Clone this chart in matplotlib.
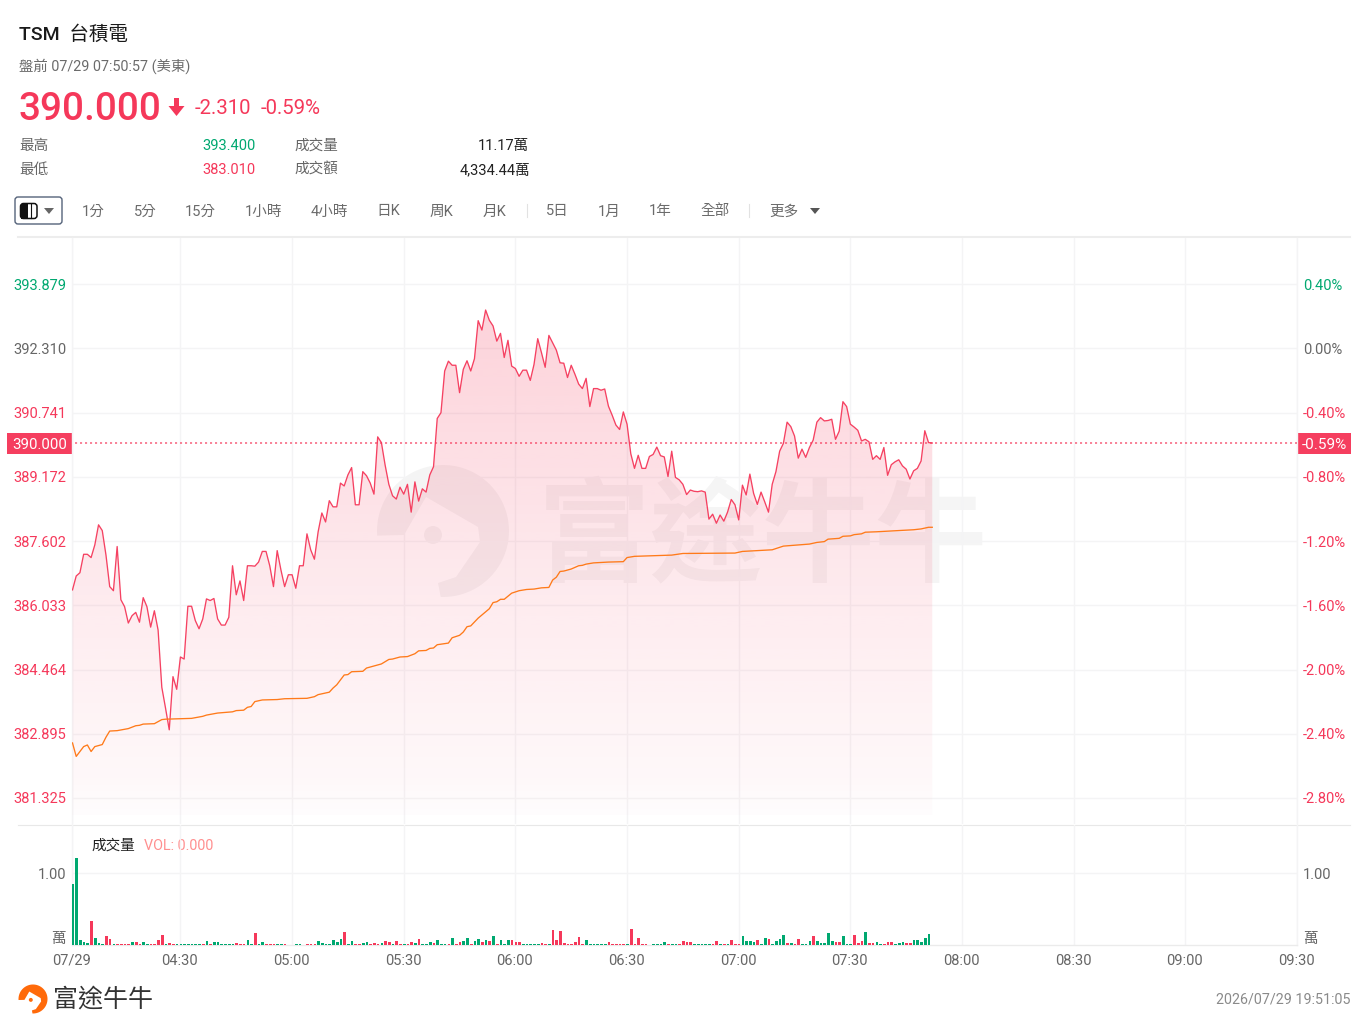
import numpy as np
import matplotlib
matplotlib.use("Agg")
import matplotlib.pyplot as plt
from matplotlib.patches import Polygon, Circle, FancyBboxPatch, Rectangle
from matplotlib.transforms import ScaledTranslation

W, H = 1369, 1031
RED = "#F5385A"
GREEN = "#00A870"
ORANGE = "#FF7A1A"
GRID = "#F4F4F5"
FONT = ["Roboto", "Noto Sans CJK TC", "DejaVu Sans"]
plt.rcParams["font.family"] = FONT
plt.rcParams["lines.scale_dashes"] = False

# ---- data -------------------------------------------------------------
price = [
 386.41,386.75,386.83,387.28,387.28,387.20,387.51,388.00,387.86,387.26,
 386.49,386.39,387.47,386.17,386.00,385.60,385.78,385.86,385.62,386.22,
 386.00,385.50,385.90,385.43,384.03,383.52,382.99,384.29,383.98,384.77,
 384.72,386.01,386.01,385.66,385.46,385.70,386.19,386.15,386.20,385.70,
 385.55,385.55,385.74,387.00,386.29,386.63,386.15,387.00,387.00,386.99,
 387.09,387.35,387.35,387.00,386.49,387.37,386.90,386.49,386.78,386.78,
 386.45,387.00,387.00,387.78,387.39,387.16,387.83,388.29,388.07,388.59,
 388.44,388.44,389.02,388.95,389.22,389.40,388.49,388.49,389.30,389.20,
 389.02,388.75,390.15,390.01,389.46,388.99,388.71,388.63,388.92,388.75,
 388.99,388.31,389.05,388.58,388.88,388.80,389.22,389.42,390.60,390.74,
 391.76,392.00,391.90,391.90,391.23,391.80,392.01,391.76,392.06,392.99,
 392.76,393.25,393.00,392.86,392.49,392.68,392.09,392.51,391.88,391.82,
 391.63,391.78,391.78,391.53,391.92,392.55,392.21,391.85,392.63,392.45,
 392.27,391.96,391.95,391.60,391.90,391.68,391.44,391.33,391.58,390.89,
 391.33,391.33,391.29,391.32,390.90,390.68,390.44,390.33,390.76,390.46,
 389.74,389.38,389.70,389.38,389.38,389.67,389.72,389.90,389.69,389.66,
 389.18,389.80,389.16,389.10,388.99,388.74,388.85,388.82,388.81,388.83,
 388.80,388.14,388.26,388.04,388.24,388.09,388.31,388.62,388.49,388.12,
 388.97,388.73,389.24,388.77,388.50,388.80,388.56,388.31,388.99,389.30,
 389.80,389.99,390.51,390.40,390.17,389.63,389.85,389.65,389.89,390.07,
 390.51,390.62,390.54,390.55,390.58,390.09,390.29,391.01,390.89,390.46,
 390.39,390.31,390.05,390.09,390.03,389.60,389.69,389.60,389.89,389.21,
 389.47,389.54,389.59,389.44,389.36,389.12,389.32,389.38,389.56,390.30,
 390.01,390.00]

vwap_minute = [
 0,1,3,4,5,6,8,9,10,12,15,17,18,19,22,24,25,32,35,36,39,43,44,46,47,48,49,51,
 55,57,63,65,66,69,70,71,73,74,75,78,79,83,85,86,88,90,92,93,95,96,97,98,101,
 102,104,105,106,107,109,112,113,114,115,116,118,120,122,124,126,128,129,130,
 131,132,134,136,137,138,140,144,148,149,151,161,164,178,180,188,191,198,200,
 202,203,206,207,209,210,212,213,216,226,228,230,231]
vwap = [
 382.67,382.34,382.58,382.62,382.46,382.58,382.63,382.81,382.96,382.97,383.02,
 383.09,383.10,383.13,383.14,383.24,383.25,383.27,383.32,383.35,383.40,383.43,
 383.46,383.47,383.54,383.56,383.68,383.72,383.73,383.75,383.76,383.80,383.85,
 383.91,384.01,384.09,384.33,384.34,384.41,384.42,384.50,384.60,384.71,384.72,
 384.77,384.78,384.85,384.92,384.93,384.98,384.99,385.07,385.11,385.24,385.30,
 385.38,385.51,385.53,385.72,385.95,386.10,386.12,386.18,386.18,386.33,386.39,
 386.42,386.43,386.46,386.47,386.65,386.72,386.86,386.87,386.92,387.00,387.01,
 387.04,387.07,387.09,387.10,387.20,387.23,387.26,387.30,387.31,387.35,387.39,
 387.48,387.53,387.57,387.59,387.65,387.67,387.72,387.73,387.76,387.78,387.82,
 387.83,387.88,387.90,387.94,387.94]

volume = [
 .843,1.198,.065,.046,.028,.332,.101,.023,.018,.120,
 .083,.014,.014,.014,.014,.014,.037,.037,.014,.037,
 .018,.014,.014,.074,.138,.014,.028,.018,.014,.014,
 .014,.014,.014,.014,.014,.014,.055,.014,.037,.037,
 .018,.014,.014,.014,.032,.014,.018,.065,.014,.166,
 .014,.046,.014,.009,.009,.009,.009,.009,0,0,
 .009,.009,0,.009,.014,.018,.051,.032,.018,.014,
 .069,.046,.083,.175,.014,.055,.014,.014,.023,.046,
 .014,.032,.018,.028,.055,.037,.014,.055,.014,.014,
 .014,.046,.032,.078,.014,.014,.046,.028,.074,.014,
 .014,.014,.092,.014,.037,.055,.092,.014,.055,.083,
 .046,.065,.055,.120,.014,.065,.014,.065,.074,.041,
 .037,.014,.014,.014,.014,.014,.028,.014,.014,.203,
 .069,.194,.023,.018,.018,.046,.115,.014,.065,.014,
 .014,.014,.014,.014,.041,.014,.014,.014,.014,.014,
 .221,.014,.101,.014,.014,0,.014,.014,.014,.041,
 .014,.014,.014,.014,.060,.041,.041,.014,.014,.014,
 .014,.014,.014,.051,.014,.014,.014,.074,.014,.014,
 .120,.060,.055,.037,.065,.014,.092,.078,.018,.055,
 .088,.134,.032,.032,.014,.078,.014,.014,.055,.124,
 .055,.023,.023,.166,.055,.041,.041,.124,.018,.014,
 .143,.028,.051,.175,.028,.028,.041,.014,.018,.037,
 .037,.014,.023,.041,.023,.023,.074,.074,.041,.097,
 .152]
vol_dir = ("gggggrgggr" "rgrrrrgrrg" "grrrrgrrgg" "gggggrgrgg" "ggggrrrggr"
           "ggrrrggrrr" "ggrrrrgggg" "gggrggrrgg" "rrrgrrgrrg" "rrgrgggrgg"
           "grgrrggrgg" "rgrgrgggrr" "rgggggrrgr" "rrrrrrrrgg" "ggggrrrrrg"
           "rrrrrrgggg" "rggrrrrggg" "ggrrgrgrrr" "ggggrggrgg" "ggrgrrgggr"
           "gggggrrggg" "rrrgrrggrr" "rgggrrgggg" "g")

price_ticks = [393.879,392.310,390.741,389.172,387.602,386.033,384.464,382.895,381.325]
price_tick_labels = ["393.879","392.310","390.741","389.172","387.602","386.033","384.464","382.895","381.325"]
pct_labels = ["0.40%","0.00%","-0.40%","-0.80%","-1.20%","-1.60%","-2.00%","-2.40%","-2.80%"]
time_ticks = [0,29,59,89,119,149,179,209,239,269,299,329]
time_labels = ["07/29","04:30","05:00","05:30","06:00","06:30","07:00","07:30","08:00","08:30","09:00","09:30"]
last_price = 390.0
last_pct = "-0.59%"
vol_tick = 1.0

# ---- figure -----------------------------------------------------------
fig = plt.figure(figsize=(W/100, H/100), dpi=100, facecolor="white")

def axes_px(l, t, r, b, **kw):
    return fig.add_axes([l/W, 1-b/H, (r-l)/W, (b-t)/H], **kw)

ov = axes_px(0, 0, W, H, zorder=0)
ov.set_xlim(0, W); ov.set_ylim(H, 0); ov.axis("off")

L, R, T, B = 72, 1297, 238, 824
ax = axes_px(L, T, R, B, zorder=2)
ax.patch.set_alpha(0)
vx = axes_px(L, B+1, R, 945, zorder=2, sharex=ax)
vx.patch.set_alpha(0)

def txt(x, y, s, size, color, ha="left", weight="normal", a=ov):
    return a.text(x, y+1, s, fontsize=size*0.72, color=color, ha=ha, va="center",
                  fontweight=weight, family=FONT)

# logo shape shared by watermark and footer
def logo(cx, cy, r, color, alpha):
    th = np.radians(np.linspace(176, 452, 120))
    arc = np.c_[cx + r*np.cos(th), cy + r*np.sin(th)]
    inner = np.array([[-5,52],[13,46],[37,11],[35,-4],[-17,-34],[-39,4]])*r/66.0 + [cx, cy]
    ov.add_patch(Polygon(np.vstack([arc, inner]), closed=True, fc=color, ec="none", alpha=alpha))
    ov.add_patch(Circle((cx-10*r/66, cy+4*r/66), 9*r/66, fc=color, ec="none", alpha=alpha))

# watermark
logo(443, 531, 66, "#000000", 0.045)
ov.text(763, 540, "富途牛牛", fontsize=81, color="black", alpha=0.04, ha="center", va="center",
        family=["Noto Sans CJK TC"], fontweight="bold")

# header
txt(19, 33.5, "TSM  台積電", 19.5, "#1A1A1A", weight="medium")
txt(19, 65, "盤前 07/29 07:50:57 (美東)", 14.4, "#6B6B6B")
txt(19, 109, "390.000", 38.8, RED, weight="medium")
ov.add_patch(Polygon([[174,98],[179,98],[179,106],[184.5,106],[176.5,116],[168.5,106],[174,106]],
                     closed=True, fc=RED, ec="none"))
txt(195, 107, "-2.310", 20.4, RED)
txt(261, 107, "-0.59%", 20.4, RED)
txt(19, 145, "最高", 14.6, "#666666")
txt(19, 169, "最低", 14.6, "#666666")
txt(255.5, 145, "393.400", 14.6, GREEN, ha="right")
txt(255.5, 169, "383.010", 14.6, RED, ha="right")
txt(294, 144.5, "成交量", 14.6, "#666666")
txt(294, 168.5, "成交額", 14.6, "#666666")
txt(529.5, 145, "11.17萬", 14.6, "#222222", ha="right")
txt(530.5, 169, "4,334.44萬", 14.6, "#222222", ha="right")

# toolbar
ov.add_patch(FancyBboxPatch((15, 197), 47, 27, boxstyle="round,pad=0,rounding_size=3",
                            fc="white", ec="#55637A", lw=1.0))
ov.add_patch(FancyBboxPatch((20.5, 203.5), 16.5, 15, boxstyle="round,pad=0,rounding_size=3",
                            fc="white", ec="#111111", lw=1.1))
ov.add_patch(Rectangle((20.5, 203.5), 7, 15, fc="#111111", ec="none"))
ov.plot([30.5, 30.5], [204, 218], color="#111111", lw=0.8)
ov.add_patch(Polygon([[44,208],[54,208],[49,214]], closed=True, fc="#666666", ec="none"))
for cx, s in [(93,"1分"),(145,"5分"),(200,"15分"),(263.5,"1小時"),(329,"4小時"),(388.5,"日K"),
              (441.5,"周K"),(494.5,"月K"),(557,"5日"),(609,"1月"),(660.5,"1年"),(715.5,"全部"),(783.5,"更多")]:
    txt(cx, 210.5, s, 14.6, "#6B6B6B", ha="center")
for sx in (527, 749):
    ov.plot([sx, sx], [204, 217], color="#E2E2E2", lw=0.8)
ov.add_patch(Polygon([[810,208],[820,208],[815,214]], closed=True, fc="#555555", ec="none"))
ov.plot([18, 1350], [237, 237], color="#EDEDED", lw=1.5)
ov.plot([18, 1350], [824.5, 824.5], color="#E8E8E8", lw=0.8)

# ---- price pane -------------------------------------------------------
mins = np.arange(len(price))
p = np.asarray(price)
xlim = (-0.13, 329.0)
per_px = 0.02444
ylim = (last_price - (B-443)*per_px, last_price + (443-T)*per_px)
ax.set_xlim(*xlim); ax.set_ylim(*ylim)

floor = last_price - (815-443)*per_px
grad = np.zeros((512, 1, 4))
grad[..., :3] = matplotlib.colors.to_rgb(RED)
grad[:, 0, 3] = np.interp(np.linspace(0, 1, 512), [0, 0.574, 0.93, 1.0], [0.225, 0.10, 0.035, 0.012])
im = ax.imshow(grad, extent=[xlim[0], xlim[1], floor, p.max()], aspect="auto", zorder=1, interpolation="bilinear")
clip = Polygon(np.vstack([np.c_[mins, p], [[mins[-1], floor], [mins[0], floor]]]), closed=True,
               transform=ax.transData, fc="none", ec="none")
ax.add_patch(clip)
im.set_clip_path(clip)
ax.set_xlim(*xlim); ax.set_ylim(*ylim)

ax.plot(mins, p, color=RED, lw=0.95, zorder=3, solid_joinstyle="round", alpha=0.95)
ax.plot(vwap_minute, vwap, color=ORANGE, lw=0.95, zorder=4)
ax.plot([0.6, xlim[1]], [last_price]*2, color=RED, lw=1.25, alpha=0.7, dashes=(1.5, 2.1), zorder=2)

LABEL_PT = 10.55
shift = ScaledTranslation(0, -1.4/100, fig.dpi_scale_trans)

ax.set_yticks(price_ticks)
ax.set_yticklabels(price_tick_labels, fontsize=LABEL_PT)
for lab, v in zip(ax.get_yticklabels(), price_ticks):
    lab.set_color(GREEN if v > 393 else ("#666666" if abs(v-392.31) < .01 else RED))
    lab.set_transform(lab.get_transform() + shift)
ax.set_xticks(time_ticks)
ax.tick_params(axis="both", length=0, labelbottom=False)
ax.tick_params(axis="y", pad=4.3)
ax.grid(True, color=GRID, lw=1.0, zorder=0)
ax.set_axisbelow(True)
for s in ax.spines.values():
    s.set_visible(False)

rax = ax.twinx()
rax.set_zorder(2)
rax.set_ylim(*ylim)
rax.set_yticks(price_ticks)
rax.set_yticklabels(pct_labels, fontsize=LABEL_PT)
for lab, v in zip(rax.get_yticklabels(), price_ticks):
    lab.set_color(GREEN if v > 393 else ("#666666" if abs(v-392.31) < .01 else RED))
    lab.set_transform(lab.get_transform() + shift)
rax.tick_params(axis="y", length=0, pad=4.3)
for s in rax.spines.values():
    s.set_visible(False)

# last price tags
ov.add_patch(Rectangle((7, 433), 65, 21, fc=RED, ec="none", alpha=0.97))
txt(39.5, 444, "390.000", 15, "white", ha="center")
ov.add_patch(Rectangle((1297, 432.5), 54, 21, fc=RED, ec="none", alpha=0.97))
txt(1324.5, 444, last_pct, 15.2, "white", ha="center")

# ---- volume pane ------------------------------------------------------
v = np.asarray(volume)
colors = [GREEN if c == "g" else RED for c in vol_dir]
vx.bar(np.arange(len(v)) + 0.12, v, width=0.72, color=colors, linewidth=0, zorder=3)
vx.set_ylim(0, 120/72.3)
vx.set_yticks([vol_tick])
vx.set_yticklabels(["1.00"], fontsize=LABEL_PT, color="#666666")
vx.set_xticks(time_ticks)
vx.set_xticklabels(time_labels, fontsize=LABEL_PT, color="#666666")
vx.tick_params(axis="both", length=0)
vx.tick_params(axis="x", pad=6.3)
vx.tick_params(axis="y", pad=4.3)
vx.grid(True, color=GRID, lw=1.0, zorder=0)
vx.set_axisbelow(True)
for n, s in vx.spines.items():
    s.set_visible(n == "bottom")
    s.set_color("#EBEBEB")
    s.set_linewidth(1.0)
for lab in vx.get_yticklabels():
    lab.set_transform(lab.get_transform() + ScaledTranslation(0, -0.7/100, fig.dpi_scale_trans))
for lab in vx.get_xticklabels():
    lab.set_transform(lab.get_transform() + ScaledTranslation(-0.7/100, 0, fig.dpi_scale_trans))
rv = vx.twinx()
rv.set_zorder(2)
rv.set_ylim(*vx.get_ylim())
rv.set_yticks([vol_tick])
rv.set_yticklabels(["1.00"], fontsize=LABEL_PT, color="#666666")
rv.tick_params(axis="y", length=0, pad=4.3)
for lab in rv.get_yticklabels():
    lab.set_transform(lab.get_transform() + ScaledTranslation(0, -0.7/100, fig.dpi_scale_trans))
for s in rv.spines.values():
    s.set_visible(False)
ov.plot([L, L], [238, 945], color=GRID, lw=1.0)
ov.plot([R, R], [238, 945], color=GRID, lw=1.0)

txt(66, 938, "萬", 14.6, "#666666", ha="right")
txt(1303, 938, "萬", 14.6, "#666666")
txt(91, 845, "成交量", 14.6, "#222222")
txt(144, 845, "VOL: 0.000", 14.4, "#FF8F8F")

# footer
logo(33, 999, 14.5, "#FF6A0A", 1.0)
txt(53, 998, "富途牛牛", 25, "#333333", weight="medium")
txt(1350, 998.5, "2026/07/29 19:51:05", 14.3, "#8A8A8A", ha="right")

fig.savefig("out.png", dpi=100, facecolor="white")
